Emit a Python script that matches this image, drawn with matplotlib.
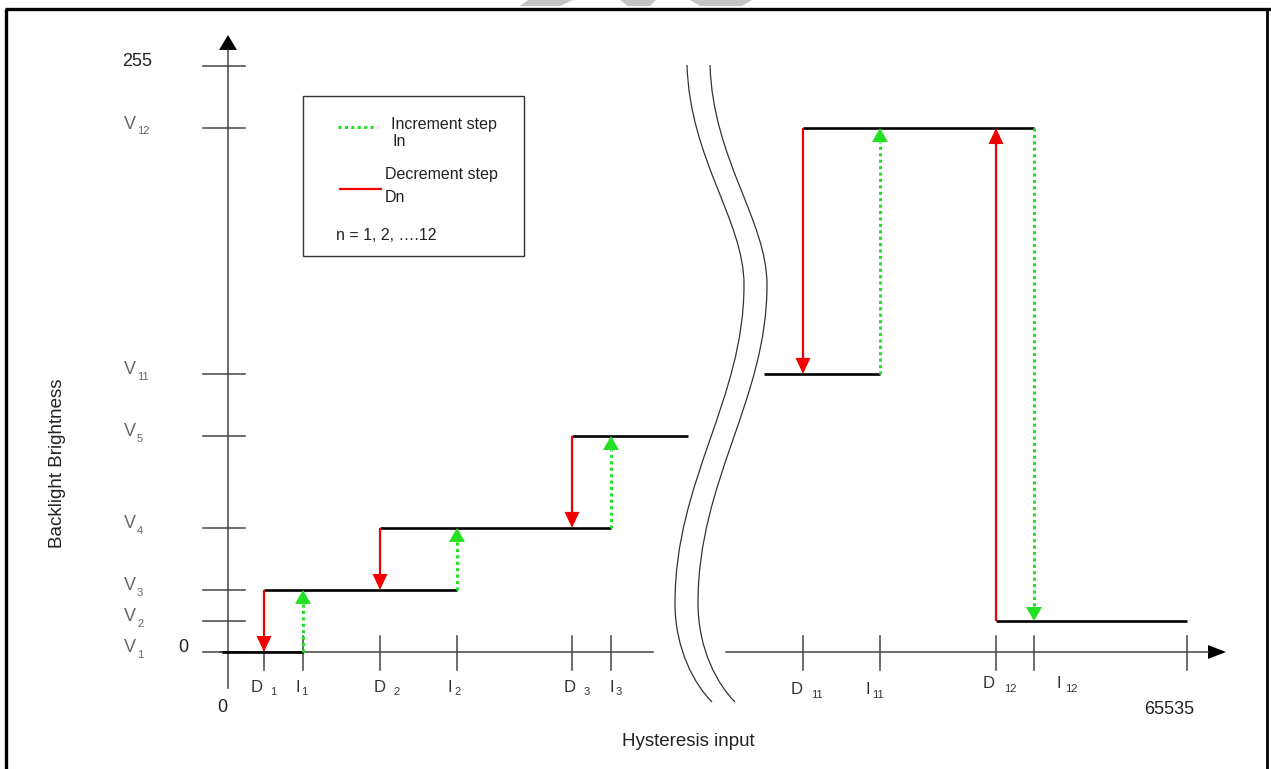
import numpy as np
import matplotlib
matplotlib.use("Agg")
import matplotlib.pyplot as plt
from matplotlib.path import Path
from matplotlib.patches import PathPatch, Polygon, Rectangle

plt.rcParams['font.family'] = ['Liberation Sans', 'DejaVu Sans']

# ---------------- data (schematic units) ----------------
level_names = ["V1", "V2", "V3", "V4", "V5", "V11", "V12"]
level_values = [0, 13.5, 27, 54, 94, 121, 228]
y_top_value = 255
y_top_label = "255"

dec_names = ["D1", "D2", "D3", "D11", "D12"]
dec_pos = [36, 152, 344, 575, 768]
dec_from = [27, 54, 94, 228, 13.5]
dec_to = [0, 27, 54, 121, 228]

inc_names = ["I1", "I2", "I3", "I11", "I12"]
inc_pos = [75, 229, 383, 652, 806]
inc_from = [0, 27, 54, 121, 228]
inc_to = [27, 54, 94, 228, 13.5]

plateau_start = [-6, 36, 152, 344, 536, 575, 768]
plateau_end = [75, 229, 383, 460, 652, 806, 959]
plateau_level = [0, 27, 54, 94, 121, 228, 13.5]

x_end_value = 959
x_end_label = "65535"

# ---------------- layout ----------------
W, H = 1271, 769
X0PX, Y0PX = 228, 652          # pixel position of the origin
YS = 586 / 255                 # pixels per brightness unit

fig = plt.figure(figsize=(W / 100, H / 100), dpi=100)
ax = fig.add_axes([0, 0, 1, 1])
ax.set_xlim(-X0PX, W - X0PX)
ax.set_ylim((Y0PX - H) / YS, Y0PX / YS)
ax.axis('off')


def P(px, py):
    """pixel position -> data coords (decorations only)"""
    return px - X0PX, (Y0PX - py) / YS


def dy(npx):
    return npx / YS


AX_COL = "#444444"
RED = "#f00000"
GREEN = "#22e022"

# ---------------- frame + faint header shapes ----------------
ax.plot(*zip(P(5, 9), P(W, 9)), color="black", lw=2.4, solid_capstyle='butt')
ax.plot(*zip(P(6, 9), P(6, H)), color="black", lw=2.4, solid_capstyle='butt')
ax.plot(*zip(P(1267, 9), P(1267, H)), color="black", lw=2.0, solid_capstyle='butt')
for poly in ([(528, 0), (573, 0), (560, 6), (520, 6)],
             [(620, 0), (656, 0), (650, 6), (628, 6)],
             [(690, 0), (752, 0), (742, 6), (700, 6)]):
    ax.add_patch(Polygon([P(*p) for p in poly], closed=True, color="#c4c4c4", lw=0))

# ---------------- axes ----------------
# y axis
ax.plot([0, 0], [dy(-36), dy(652 - 50)], color=AX_COL, lw=1.1)
ax.add_patch(Polygon([P(219, 50), P(237, 50), P(228, 35)], closed=True, color="black", lw=0))
# left x axis
ax.plot([-8, 425], [0, 0], color=AX_COL, lw=1.1)
# right x axis
ax.plot([498, 980], [0, 0], color=AX_COL, lw=1.1)
ax.add_patch(Polygon([(980, dy(7)), (980, dy(-7)), (998, 0)], closed=True, color="black", lw=0))

# y ticks
for v in level_values + [y_top_value]:
    ax.plot([-25, 17], [v, v], color=AX_COL, lw=1.1)
# x ticks
for xp in dec_pos + inc_pos + [x_end_value]:
    ax.plot([xp, xp], [dy(16), dy(-18)], color=AX_COL, lw=1.1)

# ---------------- break curves ----------------
for shift in (0, 23):
    pts = [(687, 65), (690, 160), (744, 220), (744, 285),
           (744, 400), (675, 480), (675, 603),
           (675, 650), (695, 685), (712, 702)]
    pts = [P(x + shift, y) for x, y in pts]
    codes = [Path.MOVETO] + [Path.CURVE4] * 9
    ax.add_patch(PathPatch(Path(pts, codes), fill=False, edgecolor="#333333", lw=0.9))

# ---------------- plateaus ----------------
for s, e, lv in zip(plateau_start, plateau_end, plateau_level):
    ax.plot([s, e], [lv, lv], color="black", lw=1.9, solid_capstyle='butt', zorder=3)


# ---------------- step arrows ----------------
def varrow(x, y0, y1, color, ls, lw, hw, hl):
    d = np.sign(y1 - y0)
    ybase = y1 - d * dy(hl)
    ax.plot([x, x], [y0, ybase], color=color, lw=lw, ls=ls, solid_capstyle='butt', zorder=4)
    ax.add_patch(Polygon([(x - hw / 2, ybase), (x + hw / 2, ybase), (x, y1)],
                         closed=True, color=color, lw=0, zorder=5))


for x, a, b in zip(dec_pos, dec_from, dec_to):
    varrow(x, a, b, RED, '-', 1.6, 15, 16)
for x, a, b in zip(inc_pos, inc_from, inc_to):
    varrow(x, a, b, GREEN, (0, (1, 1.1)), 2.2, 16, 14)

# ---------------- labels ----------------
def lab(x, y, txt, ox, oy, fs, color, ha='center'):
    ax.annotate(txt, (x, y), xytext=(ox, -oy), textcoords='offset pixels',
                ha=ha, va='center', fontsize=fs, color=color)


# y labels
for name, v in zip(level_names, level_values):
    lab(0, v, name[0], -98, -4, 13, "#666666")
    lab(0, v, name[1:], -91, 3, 8, "#666666", ha='left')
lab(0, y_top_value, y_top_label, -91, -4, 13, "#222222")
lab(0, 0, "0", -45, -5, 13, "#222222")
lab(0, 0, "0", -6, 56, 13, "#222222")

# x labels: (main dx, sub dx, main dy, sub dy)
dec_off = [(-7, 9, 35, 40), (0, 17, 35, 40), (-2, 15, 35, 40), (-6, 14, 37, 43), (-7, 14, 31, 37)]
inc_off = [(-5, 1, 35, 40), (-7, 1, 35, 40), (1, 8, 35, 40), (-12, -2, 37, 43), (25, 37, 31, 37)]
for names, poss, offs in ((dec_names, dec_pos, dec_off), (inc_names, inc_pos, inc_off)):
    for name, xp, (mx, sx, my, sy) in zip(names, poss, offs):
        lab(xp, 0, name[0], mx, my, 12, "#333333")
        lab(xp, 0, name[1:], sx, sy, 8, "#333333")
lab(x_end_value, 0, x_end_label, -18, 58, 13, "#222222")

ax.text(*P(688, 741), "Hysteresis input", ha='center', va='center', fontsize=13.5, color="#222222")
ax.text(*P(57, 463), "Backlight Brightness", ha='center', va='center', fontsize=13.5,
        rotation=90, color="#222222")

# ---------------- legend box ----------------
x0, y0 = P(303, 256)
x1, y1 = P(524, 96)
ax.add_patch(Rectangle((x0, y0), x1 - x0, y1 - y0, fill=False, edgecolor="#333333", lw=1.0))
ax.plot(*zip(P(338, 127), P(377, 127)), color=GREEN, lw=2.2, ls=(0, (1, 1.1)))
ax.plot(*zip(P(340, 189), P(381, 189)), color=RED, lw=1.6)
ax.text(*P(391, 124), "Increment step", ha='left', va='center', fontsize=11.5, color="#222222")
ax.text(*P(393, 142), "In", ha='left', va='center', fontsize=11.5, color="#222222")
ax.text(*P(385, 175), "Decrement step", ha='left', va='center', fontsize=11.5, color="#222222")
ax.text(*P(385, 198), "Dn", ha='left', va='center', fontsize=11.5, color="#222222")
ax.text(*P(336, 235), "n = 1, 2, \u2026.12", ha='left', va='center', fontsize=11.5, color="#222222")

fig.savefig("out.png", dpi=100)
